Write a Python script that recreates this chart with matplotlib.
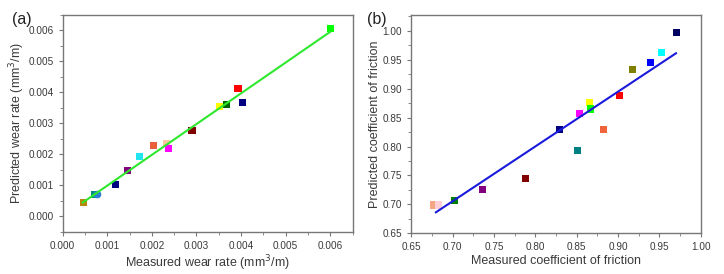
import matplotlib
matplotlib.use("Agg")
import matplotlib.pyplot as plt
from matplotlib.ticker import MultipleLocator, FormatStrFormatter

plt.rcParams['font.family'] = ['Liberation Sans', 'DejaVu Sans']

# ---- Panel (a): wear rate ----
wear_measured = [0.00046, 0.00072, 0.00118, 0.00145, 0.00172, 0.00204, 0.00232,
                 0.00237, 0.00290, 0.00351, 0.00368, 0.00393, 0.00403, 0.00600]
wear_predicted = [0.00044, 0.00070, 0.00104, 0.00149, 0.00194, 0.00228, 0.00236,
                  0.00220, 0.00276, 0.00355, 0.00361, 0.00412, 0.00368, 0.00605]
wear_colors = ['#b8860b', '#008b8b', '#000080', '#800080', '#22e5f0', '#e8603c', '#ffc8a0',
               '#ff00ff', '#800000', '#ffff00', '#006400', '#ff0000', '#000080', '#00ff00']
wear_circle_x = [0.00076]
wear_circle_y = [0.00072]
wear_fit_x = [0.00045, 0.00600]
wear_fit_y = [0.00045, 0.00595]

# ---- Panel (b): coefficient of friction ----
cof_measured = [0.677, 0.683, 0.702, 0.736, 0.7885, 0.8296, 0.851, 0.8537, 0.866,
                0.867, 0.8827, 0.902, 0.917, 0.9395, 0.9523, 0.9705]
cof_predicted = [0.699, 0.699, 0.706, 0.7255, 0.7446, 0.829, 0.794, 0.857, 0.8767,
                 0.865, 0.8294, 0.889, 0.934, 0.9447, 0.963, 0.997]
cof_colors = ['#f4a582', '#ffcfd8', '#008000', '#800080', '#800000', '#000080', '#008080',
              '#ff00ff', '#ffff00', '#00ff00', '#f0643c', '#ff0000', '#808000', '#0000ff',
              '#00ffff', '#000060']
cof_fit_x = [0.6798, 0.970]
cof_fit_y = [0.6863, 0.9614]

text_c = '#3a3a3a'
spine_c = '#777777'

fig = plt.figure(figsize=(7.24, 2.74), dpi=100)
ax1 = fig.add_axes([0.0866, 0.1533, 0.4004, 0.7931])
ax2 = fig.add_axes([0.568, 0.1485, 0.400, 0.7956])

def style(ax):
    for s in ax.spines.values():
        s.set_color(spine_c)
        s.set_linewidth(1.0)
    ax.tick_params(which='both', direction='out', colors=spine_c, labelcolor=text_c,
                   labelsize=7.2, top=False, right=False)
    ax.tick_params(which='major', length=3)
    ax.tick_params(which='minor', length=2)

# Panel (a)
ax1.scatter(wear_measured, wear_predicted, c=wear_colors, marker='s', s=26, zorder=2,
            linewidths=0)
ax1.scatter(wear_circle_x, wear_circle_y, c='#2a7fd4', marker='o', s=30, zorder=2,
            linewidths=0)
ax1.plot(wear_fit_x, wear_fit_y, color='#2ee82e', lw=1.5, zorder=3)
ax1.set_xlim(0, 0.0065)
ax1.set_ylim(-0.0005, 0.0065)
ax1.xaxis.set_major_locator(MultipleLocator(0.001))
ax1.xaxis.set_minor_locator(MultipleLocator(0.0005))
ax1.yaxis.set_major_locator(MultipleLocator(0.001))
ax1.yaxis.set_minor_locator(MultipleLocator(0.0005))
ax1.xaxis.set_major_formatter(FormatStrFormatter('%.3f'))
ax1.yaxis.set_major_formatter(FormatStrFormatter('%.3f'))
style(ax1)
ax1.set_xlabel('Measured wear rate (mm$^3$/m)', fontsize=9, color=text_c, labelpad=2)
ax1.set_ylabel('Predicted wear rate (mm$^3$/m)', fontsize=9, color=text_c, labelpad=1)

# Panel (b)
ax2.scatter(cof_measured, cof_predicted, c=cof_colors, marker='s', s=26, zorder=2,
            linewidths=0)
ax2.plot(cof_fit_x, cof_fit_y, color='#1a1adc', lw=1.5, zorder=3)
ax2.set_xlim(0.65, 1.00)
ax2.set_ylim(0.65, 1.027)
ax2.xaxis.set_major_locator(MultipleLocator(0.05))
ax2.xaxis.set_minor_locator(MultipleLocator(0.025))
ax2.yaxis.set_major_locator(MultipleLocator(0.05))
ax2.yaxis.set_minor_locator(MultipleLocator(0.025))
ax2.xaxis.set_major_formatter(FormatStrFormatter('%.2f'))
ax2.yaxis.set_major_formatter(FormatStrFormatter('%.2f'))
style(ax2)
ax2.set_xlabel('Measured coefficient of friction', fontsize=9, color=text_c, labelpad=2)
ax2.set_ylabel('Predicted coefficient of friction', fontsize=9, color=text_c, labelpad=1)

fig.text(0.017, 0.955, '(a)', fontsize=11.5, color='#222222', va='top', ha='left')
fig.text(0.507, 0.955, '(b)', fontsize=11.5, color='#222222', va='top', ha='left')

fig.savefig('out.png', dpi=100, facecolor='white')
